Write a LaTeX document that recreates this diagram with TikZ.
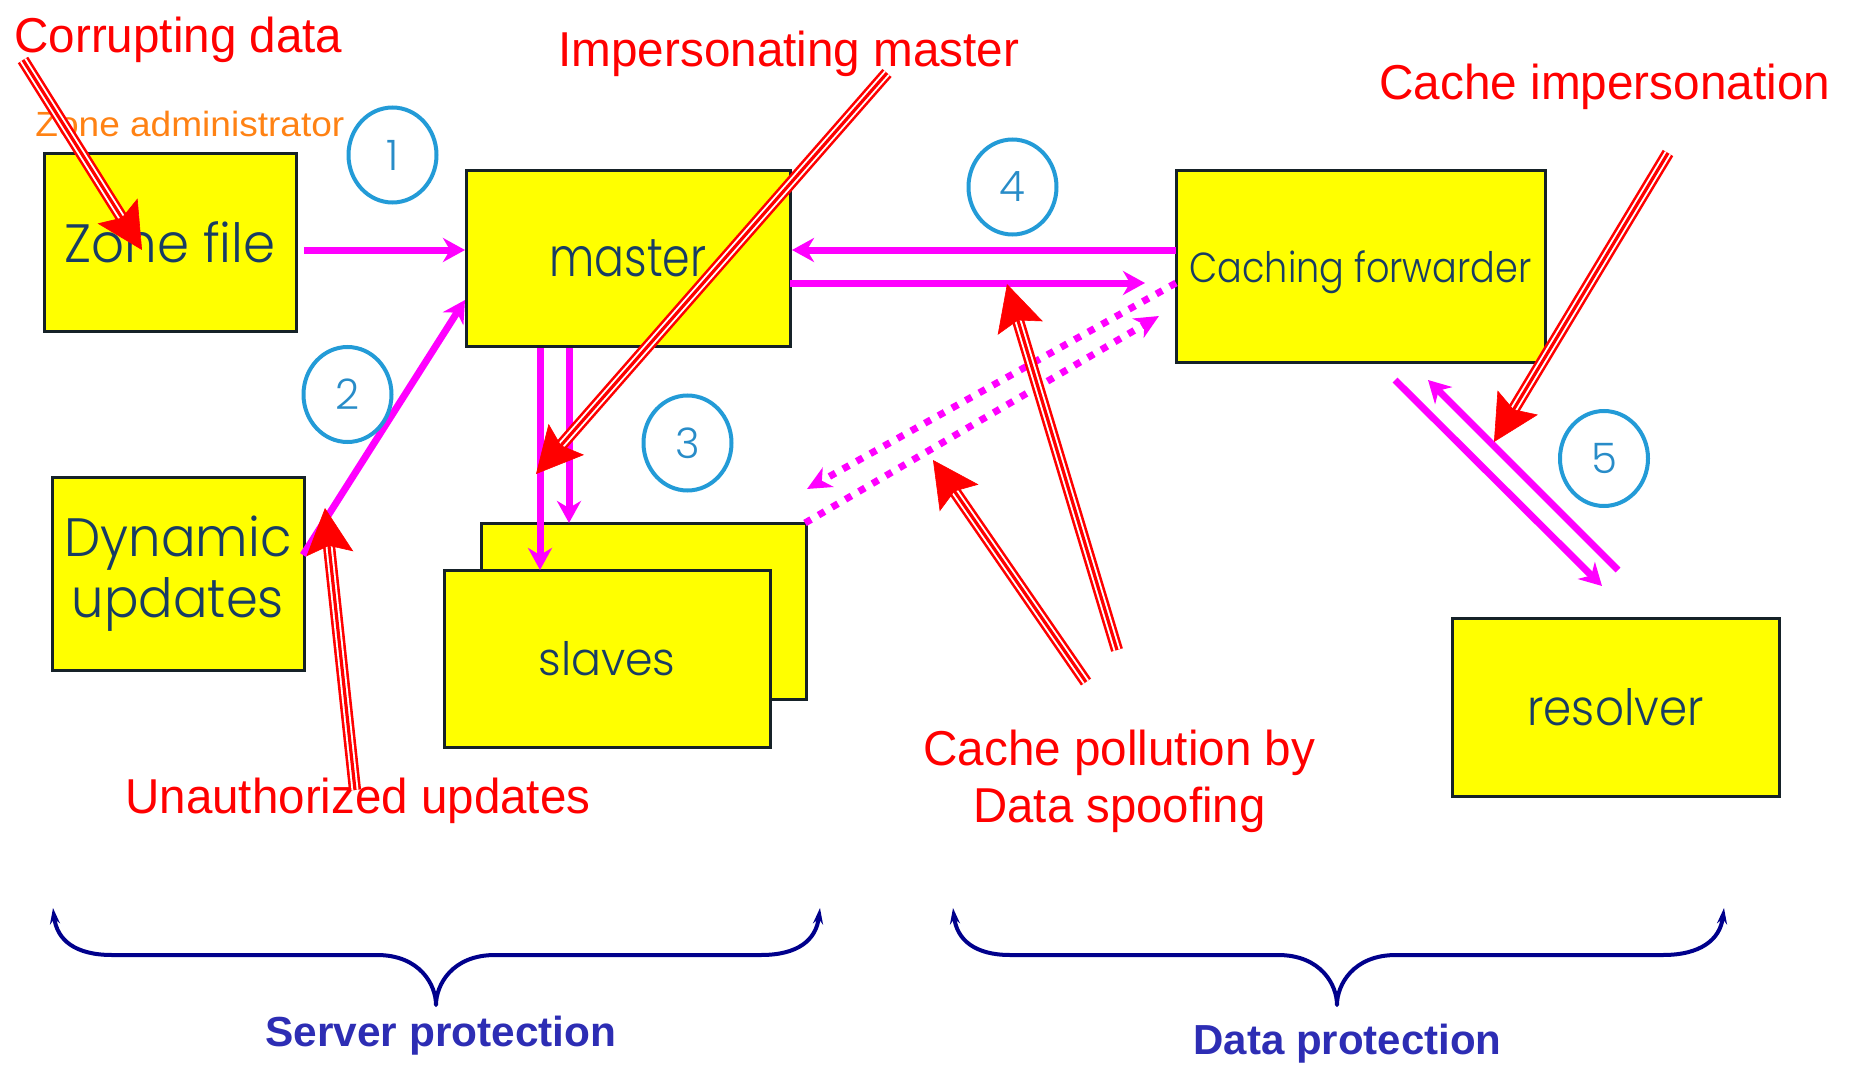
\documentclass[tikz,border=0pt]{standalone}
\usepackage{fontspec}
\setmainfont{Liberation Sans}
\IfFontExistsTF{Poppins Light}
  {\newfontfamily\boxfont{Poppins Light}}
  {\newfontfamily\boxfont{Poppins}}
\usepackage{graphicx}
\usetikzlibrary{arrows.meta,calc,shapes.geometric}

\definecolor{boxfill}{RGB}{255,255,0}
\definecolor{boxedge}{RGB}{22,34,40}
\definecolor{boxtext}{RGB}{24,60,100}
\definecolor{flowmag}{RGB}{255,0,255}
\definecolor{ringblue}{RGB}{35,155,215}
\definecolor{ringtext}{RGB}{40,140,200}
\definecolor{attackred}{RGB}{255,0,0}
\definecolor{adminorange}{RGB}{255,130,20}
\definecolor{bracenavy}{RGB}{0,0,140}
\definecolor{scopeblue}{RGB}{45,45,180}

% stretch a text horizontally to a given width, keeping its height
\newcommand\fitw[2]{\resizebox{#1}{\height}{#2}}

% red triple-line attack arrow with a large filled head
\newcommand\attackarrow[2]{%
  \draw[attackrail, shorten >=16pt] (#1) -- (#2);
  \draw[attackcore, shorten >=16pt] (#1) -- (#2);
  \draw[attackhead] ($(#2)!30pt!(#1)$) -- (#2);
}

\begin{document}
\begin{tikzpicture}[x=0.5pt, y=-0.5pt,
  box/.style={draw=boxedge, fill=boxfill, line width=1.5pt, inner sep=0pt,
    outer sep=0pt, text=boxtext},
  ring/.style={ellipse, draw=ringblue, line width=2pt, minimum width=44pt,
    minimum height=47.5pt, inner sep=0pt, text=ringtext,
    font=\boxfont\fontsize{21pt}{24pt}\selectfont},
  flow/.style={draw=flowmag, line width=3.5pt,
    -{Stealth[length=11pt, width=12pt, inset=3.5pt]}},
  dotflow/.style={draw=flowmag, line width=3.5pt, dash pattern=on 3.5pt off 4.3pt,
    -{Stealth[length=12pt, width=11pt, inset=3.5pt]}},
  attackrail/.style={draw=attackred, line width=1.3pt, double=white,
    double distance=3.5pt},
  attackcore/.style={draw=attackred, line width=1.6pt},
  attackhead/.style={draw=attackred, fill=attackred, line width=0.3pt,
    -{Stealth[length=23pt, width=23.5pt, inset=4pt]}},
  redlabel/.style={anchor=base west, inner sep=0pt, text=attackred,
    font=\fontsize{24.5pt}{28pt}\selectfont},
  scopelabel/.style={anchor=base west, inner sep=0pt, text=scopeblue,
    font=\bfseries\fontsize{21pt}{24pt}\selectfont},
  bracepath/.style={draw=bracenavy, line width=2pt, line join=round,
    {Stealth[length=8pt, width=5pt]}-{Stealth[length=8pt, width=5pt]}}
]
\useasboundingbox (0,0) rectangle (1849,1070);

% ---------- servers ----------
\node[box, minimum width=126pt, minimum height=88.5pt,
  font=\boxfont\fontsize{27pt}{32pt}\selectfont]
  (zone) at (170,242.5) {\fitw{105.5pt}{Zone file}};
\node[box, minimum width=162pt, minimum height=87.5pt,
  font=\boxfont\fontsize{27pt}{32pt}\selectfont]
  (master) at (628,258.5) {\fitw{78.5pt}{master}};
\node[box, minimum width=184.5pt, minimum height=95.5pt, text depth=0pt,
  font=\boxfont\fontsize{21pt}{25pt}\selectfont]
  (fwd) at (1360.5,266.5) {\fitw{171pt}{Caching forwarder}};
\node[box, minimum width=126pt, minimum height=96.5pt, align=center,
  font=\boxfont\fontsize{27pt}{30.5pt}\selectfont]
  (dyn) at (178,574) {\fitw{113.5pt}{Dynamic}\\\fitw{106pt}{updates}};
\node[box, minimum width=162.5pt, minimum height=88pt]
  (slavesback) at (643.5,611) {};
\node[box, minimum width=163pt, minimum height=88.5pt,
  font=\boxfont\fontsize{23pt}{27pt}\selectfont]
  (slaves) at (607,658.5) {\fitw{68.5pt}{slaves}};
\node[box, minimum width=163.5pt, minimum height=89pt,
  font=\boxfont\fontsize{25pt}{29pt}\selectfont]
  (resolver) at (1615.5,707) {\fitw{88pt}{resolver}};

% ---------- data flows ----------
\draw[flow] ($(zone.east)+(8,7.5)$) -- ($(master.west)+(-1,-8.5)$);
\draw[flow] ($(dyn.east)+(-1,-19)$) -- ($(master.west)+(-1,41.5)$);
\draw[flow] ($(master.south)+(-88,2)$) -- ($(slaves.north)+(-67,0)$);
\draw[flow] ($(master.south)+(-59,2)$) -- ($(slavesback.north)+(-74.5,0)$);
\draw[flow] ($(fwd.west)+(0,-16.5)$) -- ($(master.east)+(2,-8.5)$);
\draw[flow] ($(master.east)+(0,24.5)$) -- ($(fwd.west)+(-31,16.5)$);
\draw[dotflow] ($(fwd.west)+(0,16.5)$) -- ($(slavesback.north east)+(1,-34)$);
\draw[dotflow] ($(slavesback.north east)+(-1,0)$) -- ($(fwd.west)+(-17,49.5)$);
\draw[flow] ($(fwd.south)+(34.5,18)$) -- ($(resolver.north)+(-13.5,-32)$);
\draw[flow] ($(resolver.north)+(2.5,-48)$) -- ($(fwd.south)+(67.5,18)$);

% ---------- numbered steps ----------
\node[ring] (n1) at (392.5,155) {1};
\node[ring] (n2) at (347.5,394.5) {2};
\node[ring] (n3) at (687.5,443) {3};
\node[ring] (n4) at (1012.5,187) {4};
\node[ring] (n5) at (1604,458.5) {5};

% ---------- labels ----------
\node[anchor=base west, inner sep=0pt, text=adminorange,
  font=\fontsize{17.5pt}{20pt}\selectfont]
  (admin) at (35,137) {\fitw{154.5pt}{Zone administrator}};
\node[redlabel] (corrupt) at (14,53) {\fitw{164pt}{Corrupting data}};
\node[redlabel] (imperson) at (558,67) {\fitw{230.5pt}{Impersonating master}};
\node[redlabel] (cacheimp) at (1379,99) {\fitw{225.5pt}{Cache impersonation}};
\node[redlabel] (unauth) at (125,813) {\fitw{232.5pt}{Unauthorized updates}};
\node[redlabel] (pollA) at (923,765) {\fitw{196pt}{Cache pollution by}};
\node[redlabel] (pollB) at (973,822) {\fitw{146pt}{Data spoofing}};

% ---------- attacks ----------
\coordinate (cdA) at (23,60);     \coordinate (cdB) at (142,250);
\coordinate (imA) at (887,73);    \coordinate (imB) at (536,474);
\coordinate (unA) at (355,790);   \coordinate (unB) at (325,508);
\coordinate (cpA) at (1086,682);  \coordinate (cpB) at (933,460);
\coordinate (cqA) at (1117,650);  \coordinate (cqB) at (1007,284);
\coordinate (ciA) at (1668,153);  \coordinate (ciB) at (1494,442);
\attackarrow{cdA}{cdB}
\attackarrow{imA}{imB}
\attackarrow{unA}{unB}
\attackarrow{cpA}{cpB}
\attackarrow{cqA}{cqB}
\attackarrow{ciA}{ciB}

% ---------- protection scopes ----------
\draw[bracepath] (53,908) .. controls (57,940) and (75,955) .. (112,955)
  -- (377,955) .. controls (420,955) and (436,985) .. (436,1005)
  .. controls (436,985) and (452,955) .. (495,955)
  -- (761,955) .. controls (798,955) and (816,940) .. (820,908);
\draw[bracepath] (953,908) .. controls (957,940) and (975,955) .. (1010,955)
  -- (1278,955) .. controls (1321,955) and (1337,985) .. (1337,1005)
  .. controls (1337,985) and (1353,955) .. (1396,955)
  -- (1663,955) .. controls (1700,955) and (1720,940) .. (1724,908);

\node[scopelabel] (srvprot) at (265,1046) {\fitw{175.5pt}{Server protection}};
\node[scopelabel] (dataprot) at (1193,1054) {\fitw{154pt}{Data protection}};
\end{tikzpicture}
\end{document}
